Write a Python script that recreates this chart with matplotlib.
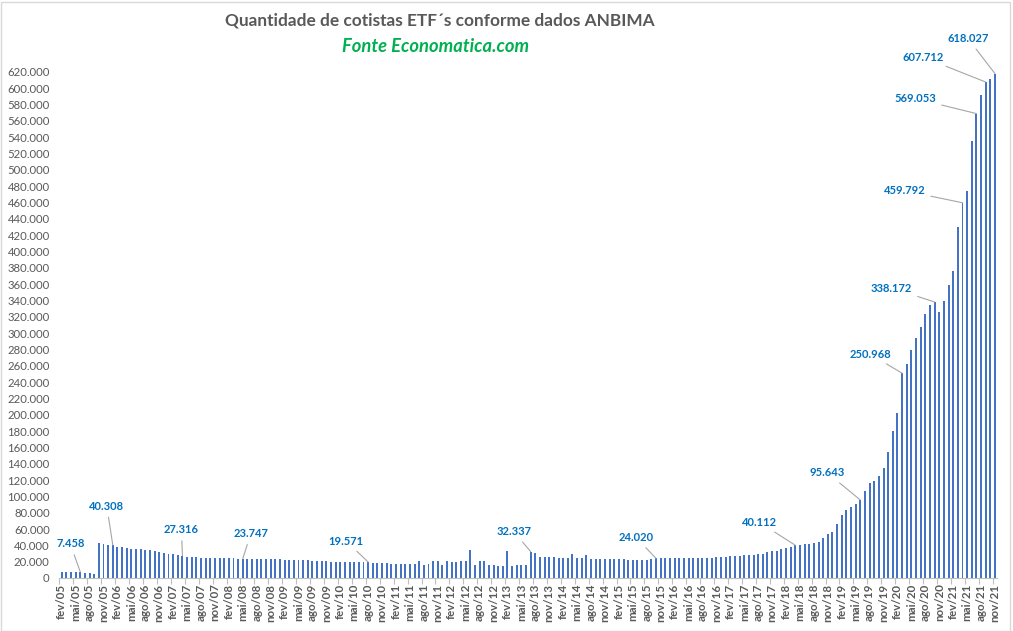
import numpy as np
import matplotlib
matplotlib.use("Agg")
import matplotlib.pyplot as plt
from matplotlib.ticker import FuncFormatter, FixedLocator

# monthly series, fev/05 .. nov/21 (thousands of quota holders)
first_year, first_month = 2005, 2
month_names = ["jan", "fev", "mar", "abr", "mai", "jun",
               "jul", "ago", "set", "out", "nov", "dez"]

cotistas_mil = [
    # 2005 fev..set
    7.7, 7.7, 7.6, 7.6, 7.458, 6.2, 6.2, 5.0,
    # i8-i26
    43.3, 41.6, 40.8, 40.308, 38.0, 38.0, 36.7, 35.5, 35.5, 35.5,
    34.3, 34.3, 33.5, 31.8, 30.6, 29.8, 29.4, 28.6, 27.316,
    # i27-i39
    26.1, 25.3, 25.3, 24.5, 24.5, 24.5, 24.5, 24.5, 24.5, 24.5, 24.5, 23.5, 23.747,
    # i40-i66
    23.5, 23.5, 23.4, 23.4, 23.3, 23.3, 23.2, 23.2,
    22.1, 22.0, 22.0, 22.0, 21.9, 21.9,
    20.6, 20.5, 20.5, 20.4,
    19.9, 19.8, 19.8, 19.7, 19.7, 19.7, 19.6, 19.6, 19.571,
    # i67-i79
    18.5, 18.4, 18.4, 18.3,
    17.3, 17.2, 17.2, 17.1, 17.1, 17.0,
    20.6, 16.3, 17.5,
    # i80-i100
    21.2, 21.2, 16.3, 21.2, 20.0, 20.0, 21.2, 21.2, 34.7, 16.3, 21.2,
    21.2, 16.3, 16.3, 15.1, 15.1, 33.0, 15.1, 16.3, 16.3, 16.3,
    # i101-i118
    32.337, 31.0, 26.1, 26.1, 26.1, 26.1, 24.9, 24.9, 24.9, 29.8, 24.9,
    24.9, 28.6, 23.7, 23.7, 23.7, 23.7, 23.7,
    # i119-i159
    23.3, 23.3, 23.3, 22.0, 22.0, 22.0, 22.0, 22.0, 23.5, 24.020,
    24.0, 24.0, 24.0, 24.1, 24.1, 24.1, 24.2, 24.2, 24.3,
    24.8, 24.9, 25.0, 25.7, 25.8, 26.0, 27.0, 27.1, 27.3,
    28.2, 28.4, 28.6, 29.4, 29.8, 31.9, 33.0, 33.4, 35.5, 36.7, 38.0,
    40.112, 40.9,
    # i160-i172
    41.6, 42.0, 43.0, 44.0, 49.0, 54.0, 56.5, 66.0, 77.0, 83.0, 87.0, 91.0, 95.643,
    # i173-i201
    107.0, 117.0, 119.0, 125.0, 134.7, 154.7, 180.0, 202.0, 250.968,
    262.0, 279.0, 294.0, 307.0, 324.0, 334.0, 338.172, 326.0, 339.0,
    359.0, 376.0, 430.0, 459.792, 474.4, 535.7, 569.053, 591.6,
    607.712, 611.0, 618.027,
]
cotistas = np.round(np.array(cotistas_mil) * 1000).astype(int)

# labelled points: index -> text offset in pixels (dx, dy)
label_idx = [4, 11, 26, 39, 66, 101, 128, 158, 172, 181, 188, 194, 197, 199, 201]
label_off = [(-10, 28), (-6, 39), (-1, 26), (8, 25), (-22, 21), (-17, 20),
             (-20, 21), (-36, 23), (-33, 27), (-32, 19), (-43, 14),
             (-58, 12), (-61, 15), (-63, 25), (-27, 35)]

n = len(cotistas)
assert n == 202
labels = []
for k in range(n):
    m = (first_month - 1 + k) % 12
    y = first_year + (first_month - 1 + k) // 12
    labels.append(f"{month_names[m]}/{y % 100:02d}")

def fmt(v):
    return f"{int(v):,}".replace(",", ".")

plt.rcParams['font.family'] = ['Lato', 'DejaVu Sans']
grey = '#595959'

W, H = 1013, 631
fig = plt.figure(figsize=(W / 100, H / 100), dpi=100)
ax = fig.add_axes([59.4 / W, (H - 578) / H, (997.3 - 59.4) / W, (578 - 72) / H])

x = np.arange(n)
ax.bar(x, cotistas, width=0.42, color='#4472C4', zorder=2)

ax.set_xlim(-0.5, n - 0.5)
ax.set_ylim(0, 620000)
ax.set_yticks(np.arange(0, 620001, 20000))
ax.yaxis.set_major_formatter(FuncFormatter(lambda v, p: fmt(v)))
ax.tick_params(axis='y', length=0, labelsize=8.2, labelcolor=grey, pad=7)

ax.set_xticks(x[::3])
ax.set_xticklabels(labels[::3], rotation=90, fontsize=8.3, fontweight='bold', color=grey)
ax.tick_params(axis='x', which='major', length=0, pad=4)
ax.xaxis.set_minor_locator(FixedLocator(np.arange(-0.5, n, 3)))
ax.tick_params(axis='x', which='minor', length=4, color='#BFBFBF', width=0.8)

for s in ['top', 'right', 'left']:
    ax.spines[s].set_visible(False)
ax.spines['bottom'].set_color('#BFBFBF')
ax.spines['bottom'].set_linewidth(0.8)

for i, (dx, dy) in zip(label_idx, label_off):
    ax.annotate(fmt(cotistas[i]), xy=(i, cotistas[i]), xytext=(dx, dy),
                textcoords='offset pixels', ha='center', va='center',
                fontsize=8, fontweight='bold', color='#0070C0',
                arrowprops=dict(arrowstyle='-', color='#A6A6A6', lw=0.8,
                                shrinkA=2, shrinkB=0),
                annotation_clip=False, zorder=3)

fig.text(440 / W, 1 - 21 / H, "Quantidade de cotistas ETF´s conforme dados ANBIMA",
         ha='center', va='center', fontsize=12.4, fontweight='bold', color=grey)
fig.text(436 / W, 1 - 46 / H, "Fonte Economatica.com", ha='center', va='center',
         fontsize=13.2, fontweight='bold', style='italic', color='#00B050')

fig.patches.append(plt.Rectangle((0.5 / W, 0.5 / H), 1 - 4 / W, 1 - 2 / H,
                                 transform=fig.transFigure, fill=False,
                                 edgecolor='#D9D9D9', lw=1))

fig.savefig("out.png", dpi=100)
